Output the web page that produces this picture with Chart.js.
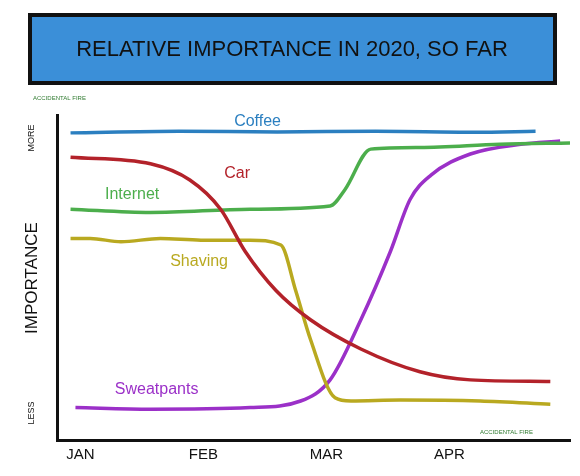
<!DOCTYPE html>
<html><head><meta charset="utf-8">
<script src="https://cdn.jsdelivr.net/npm/chart.js@4"></script>
<style>body{margin:0;background:#fff}#wrap{width:580px;height:476px}</style>
</head><body><div id="wrap"><canvas id="c"></canvas></div>
<script>
// months on x, 0 = Jan
const months = ['JAN', 'FEB', 'MAR', 'APR'];
const coffeeX = [-0.08, 0.8, 1.6, 2.4, 3.2, 3.7];
const coffeeY = [94.5, 95, 94.8, 95, 94.7, 95];
const carX = [-0.08, 0.57, 0.89, 1.14, 1.34, 1.59, 1.87, 2.28, 2.76, 3.17, 3.82];
const carY = [87, 85, 80, 71, 58, 46, 37, 28, 21, 18.5, 18];
const internetX = [-0.08, 0.57, 1.38, 2.03, 2.15, 2.36, 2.76, 3.41, 3.98];
const internetY = [71, 70, 71, 72, 77, 89.5, 90, 91, 91.4];
const shavingX = [-0.08, 0.08, 0.33, 0.65, 0.98, 1.38, 1.63, 1.75, 1.87, 2.07, 2.2, 2.6, 3.25, 3.82];
const shavingY = [62, 62, 61, 62, 61.5, 61.5, 60, 46, 31, 13, 12, 12.3, 12, 11];
const sweatX = [-0.04, 0.57, 1.38, 1.79, 2.03, 2.28, 2.52, 2.68, 2.85, 3.17, 3.58, 3.9];
const sweatY = [10, 9.5, 10, 12, 18.5, 37, 58, 74, 81.5, 88, 91, 92];

function pts(xs, ys) { return xs.map((x, i) => ({x: x, y: ys[i]})); }

const series = [
  {label: 'Coffee', data: pts(coffeeX, coffeeY), color: '#2b7fc0', at: [1.25, 98]},
  {label: 'Car', data: pts(carX, carY), color: '#b3222a', at: [1.17, 82]},
  {label: 'Internet', data: pts(internetX, internetY), color: '#4cae4c', at: [0.2, 75.5]},
  {label: 'Shaving', data: pts(shavingX, shavingY), color: '#b9a920', at: [0.73, 55]},
  {label: 'Sweatpants', data: pts(sweatX, sweatY), color: '#9b30c8', at: [0.28, 15.5]}
];

const hand = '"Liberation Sans", sans-serif';

const decor = {
  id: 'decor',
  afterDraw(chart) {
    const ctx = chart.ctx;
    const sx = chart.scales.x, sy = chart.scales.y;
    ctx.save();
    // title box
    ctx.fillStyle = '#3b8fd8';
    ctx.fillRect(30, 15, 525, 68);
    ctx.lineWidth = 4; ctx.strokeStyle = '#111';
    ctx.strokeRect(30, 15, 525, 68);
    ctx.fillStyle = '#111';
    ctx.font = '22px ' + hand;
    ctx.textAlign = 'center'; ctx.textBaseline = 'middle';
    ctx.fillText('RELATIVE IMPORTANCE IN 2020, SO FAR', 292, 50);
    ctx.font = '6px ' + hand;
    ctx.fillStyle = '#2f7a2f'; ctx.textAlign = 'left';
    ctx.fillText('ACCIDENTAL FIRE', 33, 98);
    ctx.fillText('ACCIDENTAL FIRE', 480, 432);
    // y labels
    ctx.fillStyle = '#111';
    ctx.save(); ctx.translate(32, 278); ctx.rotate(-Math.PI / 2);
    ctx.font = '17px ' + hand; ctx.textAlign = 'center';
    ctx.fillText('IMPORTANCE', 0, 0);
    ctx.font = '9px ' + hand;
    ctx.fillText('MORE', 140, 0);
    ctx.fillText('LESS', -135, 0);
    ctx.restore();
    // line labels
    ctx.font = '16px ' + hand; ctx.textAlign = 'left';
    series.forEach(s => {
      ctx.fillStyle = s.color;
      ctx.fillText(s.label, sx.getPixelForValue(s.at[0]), sy.getPixelForValue(s.at[1]));
    });
    ctx.restore();
  }
};

new Chart(document.getElementById('c'), {
  type: 'line',
  data: {
    datasets: series.map(s => ({
      label: s.label, data: s.data, borderColor: s.color,
      borderWidth: 3.5, pointRadius: 0, cubicInterpolationMode: 'monotone', fill: false
    }))
  },
  options: {
    responsive: true, maintainAspectRatio: false, animation: false,
    layout: {padding: {top: 115, left: 57, right: 10, bottom: 6}},
    plugins: {legend: {display: false}, tooltip: {enabled: false}},
    scales: {
      x: {
        type: 'linear', min: -0.19, max: 3.98,
        afterBuildTicks: ax => { ax.ticks = months.map((m, i) => ({value: i})); },
        ticks: {callback: v => months[v], color: '#111', font: {size: 15, family: hand}, padding: 6},
        grid: {display: false, drawTicks: false},
        border: {color: '#111', width: 3}
      },
      y: {
        min: 0, max: 100,
        ticks: {display: false},
        grid: {display: false, drawTicks: false},
        border: {color: '#111', width: 3}
      }
    }
  },
  plugins: [decor]
});
</script></body></html>
